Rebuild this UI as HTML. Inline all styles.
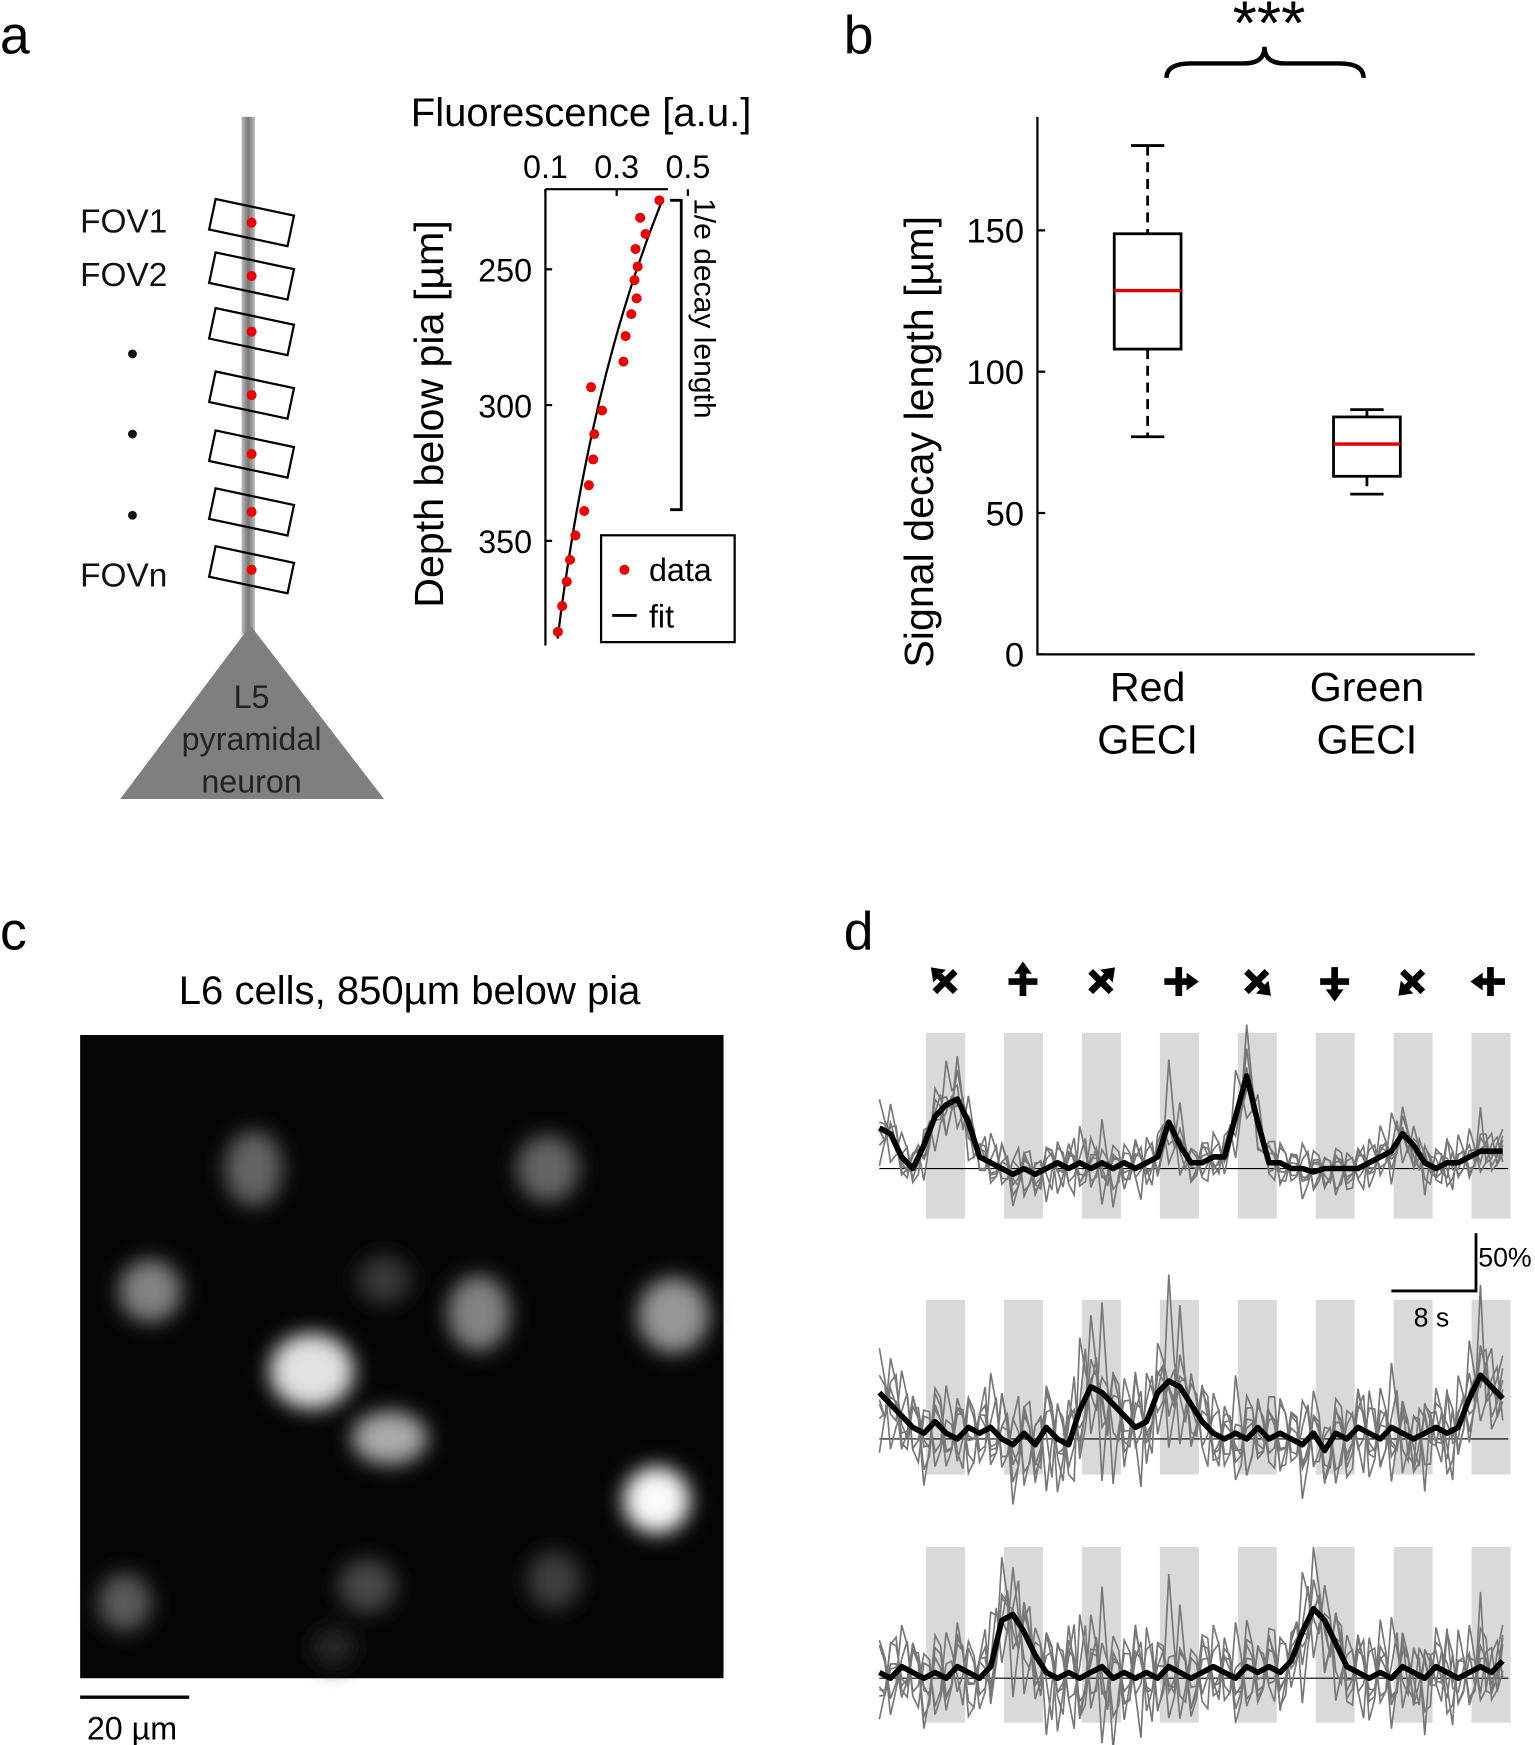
<!DOCTYPE html>
<html><head><meta charset="utf-8"><style>
html,body{margin:0;padding:0;background:#fff}
svg{display:block;font-family:"Liberation Sans",Arial,sans-serif}
</style></head><body>
<svg id="fig" width="1535" height="1745" viewBox="0 0 1379 1568" preserveAspectRatio="none" xmlns="http://www.w3.org/2000/svg">
<defs>
<filter id="blur" x="-50%" y="-50%" width="200%" height="200%"><feGaussianBlur stdDeviation="9"/></filter>
<linearGradient id="dend" x1="0" x2="1"><stop offset="0" stop-color="#bbb"/><stop offset="0.5" stop-color="#777"/><stop offset="1" stop-color="#bbb"/></linearGradient>
</defs>

<!-- panel a -->
<text x="0" y="48" font-size="48">a</text>
<rect x="217" y="105" width="12" height="465" fill="url(#dend)"/>
<polygon points="225,562 108,718 345,718" fill="#7f7f7f"/>
<g font-size="29" text-anchor="middle" fill="#222">
<text x="226" y="636">L5</text><text x="226" y="674">pyramidal</text><text x="226" y="712">neuron</text></g>
<g id="fovs"></g>
<g font-size="30" fill="#111">
<text x="72" y="209">FOV1</text><text x="72" y="257">FOV2</text><text x="72" y="527">FOVn</text></g>
<circle cx="119" cy="318" r="4" fill="#111"/><circle cx="119" cy="390" r="4" fill="#111"/><circle cx="119" cy="463" r="4" fill="#111"/>

<text x="522" y="113" font-size="36" text-anchor="middle">Fluorescence [a.u.]</text>
<text transform="translate(398,372) rotate(-90)" font-size="37" text-anchor="middle">Depth below pia [µm]</text>
<g id="fluor"></g>
<path d="M602,180 H612 V458 H602" fill="none" stroke="#000" stroke-width="2.5"/>
<text transform="translate(624,178) rotate(90)" font-size="27">1/e decay length</text>
<rect x="540" y="481" width="120" height="96" fill="#fff" stroke="#000" stroke-width="2"/>
<circle cx="561" cy="512" r="4.5" fill="#e00"/>
<text x="583" y="522" font-size="29">data</text>
<line x1="550" y1="553" x2="572" y2="553" stroke="#000" stroke-width="2.5"/>
<text x="583" y="564" font-size="29">fit</text>

<!-- panel b -->
<text x="758" y="48" font-size="48">b</text>
<g id="boxplot"></g>
<text transform="translate(838,397) rotate(-90)" font-size="37" text-anchor="middle">Signal decay length [µm]</text>
<path d="M1048,70 Q1048,57 1070,57 L1118,57 Q1136,57 1136,42 Q1136,57 1154,57 L1203,57 Q1225,57 1225,70" fill="none" stroke="#000" stroke-width="4"/>
<text x="1140" y="40" font-size="56" text-anchor="middle">***</text>

<!-- panel c -->
<text x="0" y="853" font-size="48">c</text>
<text x="368" y="902" font-size="36" text-anchor="middle">L6 cells, 850µm below pia</text>
<rect x="72" y="930" width="578" height="578" fill="#050505"/>
<g id="cells" filter="url(#blur)"></g>
<line x1="72" y1="1525" x2="170" y2="1525" stroke="#000" stroke-width="3"/>
<text x="78" y="1563" font-size="29">20 µm</text>

<!-- panel d -->
<text x="758" y="853" font-size="48">d</text>
<g id="icons"></g>
<g id="traces"></g>
<path d="M1326,1108 V1160 H1250" fill="none" stroke="#000" stroke-width="2.5"/>
<text x="1328" y="1138" font-size="24">50%</text>
<text x="1270" y="1192" font-size="24">8 s</text>
</svg>
<script>
const NS="http://www.w3.org/2000/svg";
function mk(tag,attrs,parent){const e=document.createElementNS(NS,tag);for(const k in attrs)e.setAttribute(k,attrs[k]);parent.appendChild(e);return e;}

// ---------- panel a data ----------
const fovDepthPx=[200,248,298,355,408,460,512];
const fluorValues=[0.42,0.366,0.381,0.353,0.359,0.35,0.356,0.341,0.325,0.319,0.228,0.259,0.237,0.234,0.222,0.209,0.184,0.169,0.16,0.147,0.135];
const depthValues=[224.6,231,237,242.5,249,254,260.7,266.5,274.6,284,293.4,302,310.7,320,329.5,339,348,357,365,374,383.5];
const fluorTicks=[0.1,0.3,0.5];
const depthTicks=[250,300,350];
const fitA=0.43, fitD0=224, fitL=139;

const fxs=v=>490+(v-0.1)*320;
const fys=d=>242+(d-250)*2.44;

const fovs=document.getElementById('fovs');
fovDepthPx.forEach((y,i)=>{
  const g=mk('g',{transform:`translate(226,${y}) rotate(12)`},fovs);
  
  
  mk('rect',{x:-36,y:-14,width:72,height:28,fill:'none',stroke:'#000','stroke-width':2},g);
  mk('circle',{cx:0,cy:0,r:4.5,fill:'#e00'},g);
});

const fl=document.getElementById('fluor');
mk('path',{d:`M490,170 V580 M490,170 H600`,fill:'none',stroke:'#000','stroke-width':2},fl);
fluorTicks.forEach(t=>{
  const x=fxs(t);
  mk('line',{x1:x,y1:170,x2:x,y2:176,stroke:'#000','stroke-width':2},fl);
  const tx=mk('text',{x:x,y:160,'font-size':29,'text-anchor':'middle'},fl);tx.textContent=t;
  
  
});
depthTicks.forEach(t=>{
  const y=fys(t);
  mk('line',{x1:490,y1:y,x2:496,y2:y,stroke:'#000','stroke-width':2},fl);
  const tx=mk('text',{x:478,y:y+11,'font-size':29,'text-anchor':'end'},fl);tx.textContent=t;
  
  
});
let fd='';
for(let d=fitD0;d<=386;d+=2){const v=fitA*Math.exp(-(d-fitD0)/fitL);fd+=(fd?'L':'M')+fxs(v).toFixed(1)+','+fys(d).toFixed(1);}
const fitp=mk('path',{d:fd,fill:'none',stroke:'#000','stroke-width':2},fl);


fluorValues.forEach((v,i)=>{
  const c=mk('circle',{cx:fxs(v),cy:fys(depthValues[i]),r:4.5,fill:'#e00'},fl);
  
  
});

// ---------- panel b data ----------
const groups=['Red|GECI','Green|GECI'];
const whiskerLow=[77,56.7];
const q1=[108,63];
const medians=[128.7,74.4];
const q3=[148.8,84];
const whiskerHigh=[180,86.6];
const yTicksB=[0,50,100,150];
const groupCenters=[1031,1228];
const bys=v=>588-v*2.54;
const bp=document.getElementById('boxplot');
mk('path',{d:'M932,105 V588 H1325',fill:'none',stroke:'#000','stroke-width':2},bp);
yTicksB.forEach(t=>{
  const y=bys(t);
  mk('line',{x1:932,y1:y,x2:939,y2:y,stroke:'#000','stroke-width':2},bp);
  const tx=mk('text',{x:920,y:y+11,'font-size':31,'text-anchor':'end'},bp);tx.textContent=t;
  
  
});
groups.forEach((g,i)=>{
  const cx=groupCenters[i], hw=30;
  const gg=mk('g',{},bp);
  
  
  mk('line',{x1:cx,y1:bys(whiskerHigh[i]),x2:cx,y2:bys(q3[i]),stroke:'#000','stroke-width':2.5,'stroke-dasharray':'9,6'},gg);
  mk('line',{x1:cx,y1:bys(q1[i]),x2:cx,y2:bys(whiskerLow[i]),stroke:'#000','stroke-width':2.5,'stroke-dasharray':'9,6'},gg);
  mk('line',{x1:cx-15,y1:bys(whiskerHigh[i]),x2:cx+15,y2:bys(whiskerHigh[i]),stroke:'#000','stroke-width':2.5},gg);
  mk('line',{x1:cx-15,y1:bys(whiskerLow[i]),x2:cx+15,y2:bys(whiskerLow[i]),stroke:'#000','stroke-width':2.5},gg);
  mk('rect',{x:cx-hw,y:bys(q3[i]),width:2*hw,height:bys(q1[i])-bys(q3[i]),fill:'#fff',stroke:'#000','stroke-width':2.5},gg);
  mk('line',{x1:cx-hw,y1:bys(medians[i]),x2:cx+hw,y2:bys(medians[i]),stroke:'#d00','stroke-width':3},gg);
  const [l1,l2]=g.split('|');
  const t1=mk('text',{x:cx,y:630,'font-size':37,'text-anchor':'middle'},bp);t1.textContent=l1;
  
  
  const t2=mk('text',{x:cx,y:677,'font-size':37,'text-anchor':'middle'},bp);t2.textContent=l2;
  
  
});

// ---------- panel c ----------
const cellX=[280,590,350,135,605,430,228,492,112,330,498,345,300];
const cellY=[1232,1348,1292,1160,1182,1180,1050,1050,1440,1425,1420,1150,1480];
const cellRx=[38,30,34,28,32,28,26,28,24,26,24,24,20];
const cellRy=[34,30,24,28,34,34,34,30,26,24,26,22,18];
const cellB=[225,250,170,130,150,130,100,100,90,70,60,55,40];
const cg=document.getElementById('cells');
cellX.forEach((x,i)=>{
  const b=cellB[i];
  const e=mk('ellipse',{cx:x,cy:cellY[i],rx:cellRx[i],ry:cellRy[i],fill:`rgb(${b},${b},${b})`},cg);
  
  
});

// ---------- panel d ----------
const stimStarts=[832,902,972,1042,1112,1182,1252,1322];
const arrowDirs=[-135,-90,-45,0,45,90,135,180];
const rowTop=[928,1168,1390];
const rowBottom=[1095,1325,1548];
const rowBase=[1050,1293,1508];
const timeX0=790, timeStep=10;
const meanRow1=[35,30,10,0,20,45,55,60,40,10,5,0,-5,0,-5,0,5,0,5,0,5,0,5,0,5,10,40,20,5,5,10,10,45,80,40,5,5,0,0,-3,0,0,0,0,5,10,15,30,20,5,0,5,5,10,15,15,15];
const meanRow2=[40,30,20,10,5,15,5,0,10,5,10,0,-5,5,-5,10,0,-5,25,45,40,30,20,10,15,40,50,45,30,15,5,0,5,0,10,0,5,0,-5,5,-10,5,0,10,5,0,10,5,0,5,10,5,10,35,55,45,35];
const meanRow3=[5,0,10,5,0,5,0,10,5,0,10,50,55,40,20,5,0,5,0,5,10,0,5,0,5,0,10,5,0,5,10,5,0,10,5,10,5,15,40,60,50,30,10,5,0,5,0,10,5,0,10,5,0,5,10,5,15];
const dev1=[12,-8,15,-10,6,-14,18,-5,9,-12,20,-7,11,-16,8,-4,14,-11,25,-9,30,-15,12,-6,17,-13,35,-10,8,-12,15,-6,22,-14,10,-9,13,-5,18,-12,7,-15,11,-8,16,-10,24,-7,9,-13,14,-6,19,-11,28,-9,12];
const dev2=[-10,14,-6,11,-15,9,-8,16,-12,7,-9,18,-14,6,-11,15,-7,12,-16,22,-10,8,-13,19,-6,14,-9,26,-15,10,-7,13,-12,17,-8,11,-14,9,-6,16,-11,8,-15,13,-9,20,-7,12,-13,10,-8,15,-10,18,-12,9,-6];
const means=[meanRow1,meanRow2,meanRow3];
const pxPerPct=1.04;

const ic=document.getElementById('icons');
arrowDirs.forEach((a,i)=>{
  const cx=stimStarts[i]+17, cy=882;
  const g=mk('g',{transform:`translate(${cx},${cy}) rotate(${a})`},ic);
  
  
  mk('line',{x1:-13,y1:0,x2:9,y2:0,stroke:'#000','stroke-width':6},g);
  mk('line',{x1:0,y1:-13,x2:0,y2:13,stroke:'#000','stroke-width':6},g);
  mk('polygon',{points:'18,0 7,-8 7,8',fill:'#000'},g);
});

const tr=document.getElementById('traces');
const noiseScale=[1.2,2.2,2.2];
for(let r=0;r<3;r++){
  const rg=mk('g',{},tr);
  
  
  stimStarts.forEach(s=>{
    const b=mk('rect',{x:s,y:rowTop[r],width:35,height:rowBottom[r]-rowTop[r],fill:'#d9d9d9'},rg);
    
    
  });
  mk('line',{x1:790,y1:rowBase[r],x2:1355,y2:rowBase[r],stroke:'#000','stroke-width':1},rg);
  const m=means[r];
  const variants=[[dev1,1,0],[dev2,1,0],[dev1,-0.8,5],[dev2,-0.7,5],[dev1,0.6,3],[dev2,-1.1,7]];
  variants.forEach(([d,k,off])=>{
    let p='';
    m.forEach((v,i)=>{
      const x=timeX0+i*timeStep;
      const y=rowBase[r]-(v*(1+0.3*k)+k*d[(i+off)%d.length]*noiseScale[r])*pxPerPct;
      p+=(p?'L':'M')+x+','+y.toFixed(1);
      if(i<m.length-1){const x2=x+5;const y2=rowBase[r]-((v+m[i+1])/2-k*d[(i+off+3)%d.length]*noiseScale[r]*0.7)*pxPerPct;p+='L'+x2+','+y2.toFixed(1);}
    });
    const pl=mk('path',{d:p,fill:'none',stroke:'#777','stroke-width':1.5},rg);
    
    
  });
  let p='';
  m.forEach((v,i)=>{const x=timeX0+i*timeStep;const y=rowBase[r]-v*pxPerPct;p+=(p?'L':'M')+x+','+y.toFixed(1);});
  const ml=mk('path',{d:p,fill:'none',stroke:'#000','stroke-width':5,'stroke-linejoin':'round'},rg);
  
  
}
</script>
</body></html>
